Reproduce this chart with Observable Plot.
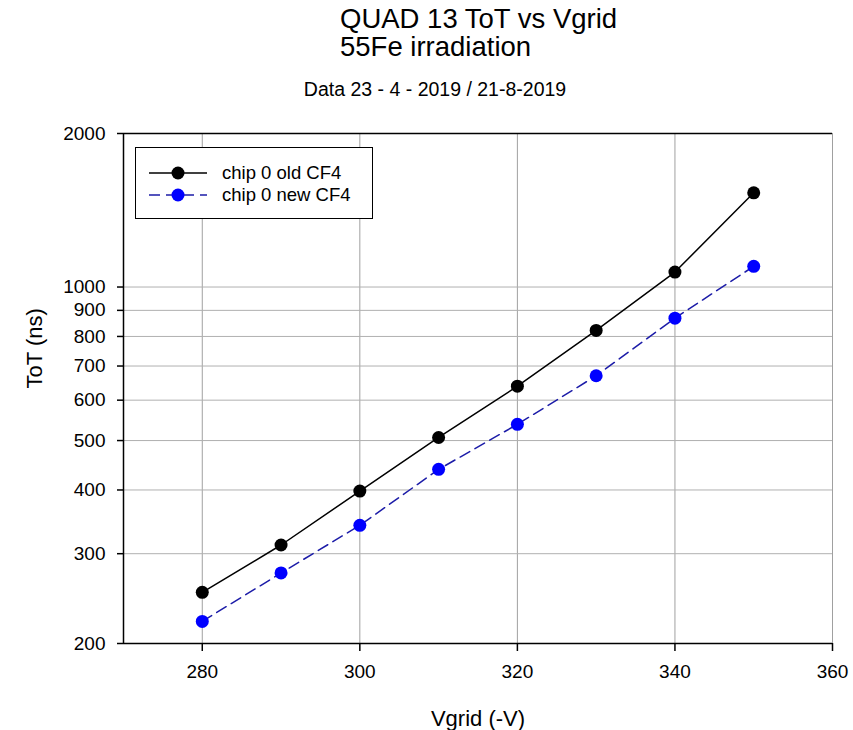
<!DOCTYPE html>
<html>
<head>
<meta charset="utf-8">
<script src="https://cdn.jsdelivr.net/npm/d3@7"></script>
<script src="https://cdn.jsdelivr.net/npm/@observablehq/plot@0.6"></script>
<style>
  html, body { margin: 0; padding: 0; background: #fff; }
  body { width: 853px; height: 730px; position: relative; overflow: hidden; font-family: "Liberation Sans", Arial, sans-serif; color: #000; }
  #head { position: relative; height: 100px; }
  .t1 { position: absolute; left: 340px; font-size: 27.5px; line-height: 28px; white-space: nowrap; }
  .t3 { position: absolute; left: 0; width: 870px; text-align: center; font-size: 19.5px; top: 78px; white-space: nowrap; }
  #legend { position: absolute; left: 135px; top: 147px; width: 236px; height: 70px; border: 1px solid #000; background: #fff; }
  .row { position: absolute; left: 0; height: 22px; display: flex; align-items: center; font-size: 18.5px; white-space: nowrap; }
  .row svg { margin-left: 13px; margin-right: 15px; }
</style>
</head>
<body>
<div id="head">
  <div class="t1" style="top:5px">QUAD 13 ToT vs Vgrid</div>
  <div class="t1" style="top:33px">55Fe irradiation</div>
  <div class="t3">Data 23 - 4 - 2019 / 21-8-2019</div>
</div>
<div id="chart"></div>
<div id="legend">
  <div class="row" style="top:14px">
    <svg width="58" height="16"><line x1="0" y1="8" x2="58" y2="8" stroke="#000" stroke-width="1.5"/><circle cx="29" cy="8" r="6.5" fill="#000"/></svg>chip 0 old CF4
  </div>
  <div class="row" style="top:36px">
    <svg width="58" height="16"><line x1="0" y1="8" x2="58" y2="8" stroke="#1c1ca8" stroke-width="1.5" stroke-dasharray="11,6"/><circle cx="29" cy="8" r="6.5" fill="#0000ff"/></svg>chip 0 new CF4
  </div>
</div>
<script>
const vgrid = [280, 290, 300, 310, 320, 330, 340, 350];
const totOldCF4 = [252, 312, 398, 507, 639, 822, 1070, 1530];
const totNewCF4 = [221, 275, 341, 439, 538, 670, 869, 1098];
const xTicks = [280, 300, 320, 340, 360];
const yTicks = [200, 300, 400, 500, 600, 700, 800, 900, 1000, 2000];
const yGrid = [300, 400, 500, 600, 700, 800, 900, 1000];

const oldData = vgrid.map((v, i) => ({v, t: totOldCF4[i]}));
const newData = vgrid.map((v, i) => ({v, t: totNewCF4[i]}));

const chart = Plot.plot({
  width: 853,
  height: 630,
  marginTop: 33,
  marginBottom: 87,
  marginLeft: 123,
  marginRight: 21,
  style: {fontFamily: '"Liberation Sans", Arial, sans-serif', fontSize: "19px", background: "#fff", color: "#000"},
  x: {domain: [270, 360]},
  y: {type: "log", domain: [200, 2000]},
  marks: [
    Plot.ruleX(xTicks, {stroke: "#a0a0a0", strokeWidth: 1}),
    Plot.ruleY(yGrid, {stroke: "#b0b0b0", strokeWidth: 1}),
    Plot.ruleY([2000], {stroke: "#000", strokeWidth: 1.5}),
    Plot.ruleY([200], {stroke: "#000", strokeWidth: 1.5}),
    Plot.ruleX([270], {stroke: "#000", strokeWidth: 1.5}),
    Plot.axisX(xTicks, {tickSize: 8, tickPadding: 13, fontSize: 19, label: null, stroke: "#000", strokeWidth: 1.5}),
    Plot.axisY(yTicks, {tickSize: 6, tickPadding: 12, fontSize: 19, label: null, tickFormat: d => String(d), stroke: "#000", strokeWidth: 1.5}),
    Plot.line(oldData, {x: "v", y: "t", stroke: "#000", strokeWidth: 1.5}),
    Plot.line(newData, {x: "v", y: "t", stroke: "#1c1ca8", strokeWidth: 1.5, strokeDasharray: "11,6"}),
    Plot.dot(oldData, {x: "v", y: "t", r: 6.5, fill: "#000"}),
    Plot.dot(newData, {x: "v", y: "t", r: 6.5, fill: "#0000ff"}),
    Plot.text(["Vgrid (-V)"], {frameAnchor: "bottom", text: d => d, dy: 75, fontSize: 22, lineAnchor: "middle"}),
    Plot.text(["ToT (ns)"], {frameAnchor: "left", text: d => d, dx: -89, rotate: -90, fontSize: 22, lineAnchor: "middle"})
  ]
});
document.getElementById("chart").appendChild(chart);
</script>
</body>
</html>
